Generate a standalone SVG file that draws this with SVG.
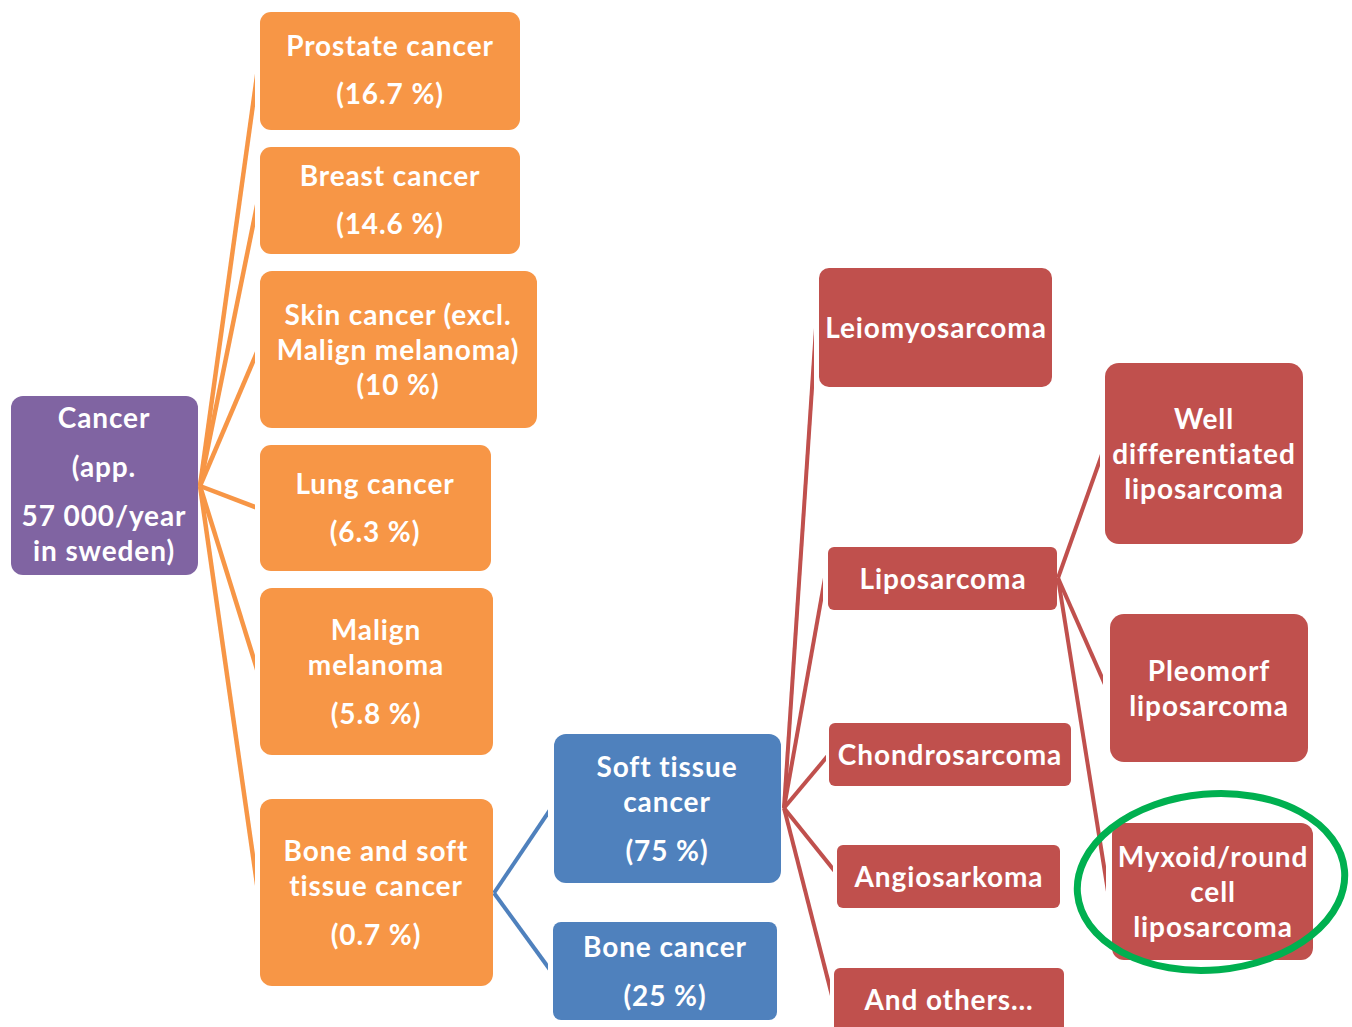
<svg xmlns="http://www.w3.org/2000/svg" width="1352" height="1027" viewBox="0 0 1352 1027">
<style>
.t{font-family:Lato,"Liberation Sans",sans-serif;font-weight:bold;font-size:28px;letter-spacing:0.9px;fill:#fff;text-anchor:middle}
.o{fill:#F79646}.p{fill:#8064A2}.b{fill:#4F81BD}.r{fill:#C0504D}
.lo{stroke:#F79646;stroke-width:4.5;fill:none}
.lb{stroke:#4F81BD;stroke-width:4;fill:none}
.lr{stroke:#C0504D;stroke-width:4;fill:none}
</style>
<defs>
<clipPath id="co"><rect x="0" y="0" width="255" height="1027"/></clipPath>
<clipPath id="cb"><rect x="400" y="0" width="148" height="1027"/></clipPath>
<clipPath id="c1"><rect x="700" y="0" width="114" height="1027"/></clipPath>
<clipPath id="c2"><rect x="700" y="0" width="123" height="1027"/></clipPath>
<clipPath id="c3"><rect x="700" y="0" width="126" height="1027"/></clipPath>
<clipPath id="c4"><rect x="700" y="0" width="133" height="1027"/></clipPath>
<clipPath id="c5"><rect x="700" y="0" width="130" height="1027"/></clipPath>
<clipPath id="c6"><rect x="1000" y="0" width="100" height="1027"/></clipPath>
<clipPath id="c7"><rect x="1000" y="0" width="103" height="1027"/></clipPath>
<clipPath id="c8"><rect x="1000" y="0" width="106" height="1027"/></clipPath>
</defs>
<rect width="1352" height="1027" fill="#fff"/>
<g id="connectors">
<g clip-path="url(#co)">
<line class="lo" x1="200" y1="486" x2="265" y2="18"/>
<line class="lo" x1="200" y1="486" x2="265" y2="166"/>
<line class="lo" x1="200" y1="486" x2="265" y2="333.5"/>
<line class="lo" x1="200" y1="486" x2="265" y2="510.8"/>
<line class="lo" x1="200" y1="486" x2="265" y2="695"/>
<line class="lo" x1="200" y1="486" x2="265" y2="940"/>
</g>
<g clip-path="url(#cb)">
<line class="lb" x1="494" y1="893" x2="558" y2="798"/>
<line class="lb" x1="494" y1="893" x2="558" y2="980.7"/>
</g>
<line class="lr" clip-path="url(#c1)" x1="784" y1="808" x2="824" y2="208"/>
<line class="lr" clip-path="url(#c2)" x1="784" y1="808" x2="833" y2="533"/>
<line class="lr" clip-path="url(#c3)" x1="784" y1="808" x2="836" y2="746"/>
<line class="lr" clip-path="url(#c4)" x1="784" y1="808" x2="843" y2="881.4"/>
<line class="lr" clip-path="url(#c5)" x1="784" y1="808" x2="840" y2="1027"/>
<line class="lr" clip-path="url(#c6)" x1="1058" y1="578" x2="1110" y2="432"/>
<line class="lr" clip-path="url(#c7)" x1="1058" y1="578" x2="1113" y2="702.7"/>
<line class="lr" clip-path="url(#c8)" x1="1058" y1="578" x2="1116" y2="941.7"/>
</g>
<g id="cancer"><rect class="p" x="11" y="396" width="187" height="179" rx="12"/>
<text class="t" x="104" y="428">Cancer</text><text class="t" x="104" y="477">(app.</text><text class="t" x="104" y="526">57 000/year</text><text class="t" x="104" y="561">in sweden)</text></g>
<g id="prostate"><rect class="o" x="260" y="12" width="260" height="118" rx="11"/>
<text class="t" x="390" y="56">Prostate cancer</text><text class="t" x="390" y="104">(16.7 %)</text></g>
<g id="breast"><rect class="o" x="260" y="147" width="260" height="107" rx="11"/>
<text class="t" x="390" y="186">Breast cancer</text><text class="t" x="390" y="234">(14.6 %)</text></g>
<g id="skin"><rect class="o" x="260" y="271" width="277" height="157" rx="12"/>
<text class="t" x="398" y="325">Skin cancer (excl.</text><text class="t" x="398" y="360">Malign melanoma)</text><text class="t" x="398" y="395">(10 %)</text></g>
<g id="lung"><rect class="o" x="260" y="445" width="231" height="126" rx="11"/>
<text class="t" x="375" y="494">Lung cancer</text><text class="t" x="375" y="542">(6.3 %)</text></g>
<g id="malign"><rect class="o" x="260" y="588" width="233" height="167" rx="12"/>
<text class="t" x="376" y="640">Malign</text><text class="t" x="376" y="675">melanoma</text><text class="t" x="376" y="724">(5.8 %)</text></g>
<g id="bonesoft"><rect class="o" x="260" y="799" width="233" height="187" rx="12"/>
<text class="t" x="376" y="861">Bone and soft</text><text class="t" x="376" y="896">tissue cancer</text><text class="t" x="376" y="945">(0.7 %)</text></g>
<g id="softtissue"><rect class="b" x="554" y="734" width="227" height="149" rx="12"/>
<text class="t" x="667" y="777">Soft tissue</text><text class="t" x="667" y="812">cancer</text><text class="t" x="667" y="861">(75 %)</text></g>
<g id="bonecancer"><rect class="b" x="553" y="922" width="224" height="98" rx="8"/>
<text class="t" x="665" y="957">Bone cancer</text><text class="t" x="665" y="1006">(25 %)</text></g>
<g id="leio"><rect class="r" x="819" y="268" width="233" height="119" rx="10"/>
<text class="t" x="936" y="338">Leiomyosarcoma</text></g>
<g id="lipo"><rect class="r" x="828" y="547" width="229" height="63" rx="6"/>
<text class="t" x="943" y="589">Liposarcoma</text></g>
<g id="chondro"><rect class="r" x="829" y="723" width="242" height="63" rx="6"/>
<text class="t" x="950" y="765">Chondrosarcoma</text></g>
<g id="angio"><rect class="r" x="837" y="845" width="223" height="63" rx="6"/>
<text class="t" x="949" y="887">Angiosarkoma</text></g>
<g id="others"><rect class="r" x="834" y="968" width="230" height="70" rx="6"/>
<text class="t" x="949" y="1010">And others...</text></g>
<g id="welldiff"><rect class="r" x="1105" y="363" width="198" height="181" rx="14"/>
<text class="t" x="1204" y="429">Well</text><text class="t" x="1204" y="464">differentiated</text><text class="t" x="1204" y="499">liposarcoma</text></g>
<g id="pleomorf"><rect class="r" x="1110" y="614" width="198" height="148" rx="14"/>
<text class="t" x="1209" y="681">Pleomorf</text><text class="t" x="1209" y="716">liposarcoma</text></g>
<g id="myxoid"><rect class="r" x="1112" y="823" width="201" height="137" rx="12"/>
<text class="t" x="1213" y="867">Myxoid/round</text><text class="t" x="1213" y="902">cell</text><text class="t" x="1213" y="937">liposarcoma</text></g>
<ellipse cx="1211" cy="882" rx="134" ry="88" transform="rotate(-5 1211 882)" fill="none" stroke="#00B050" stroke-width="7"/>
</svg>
